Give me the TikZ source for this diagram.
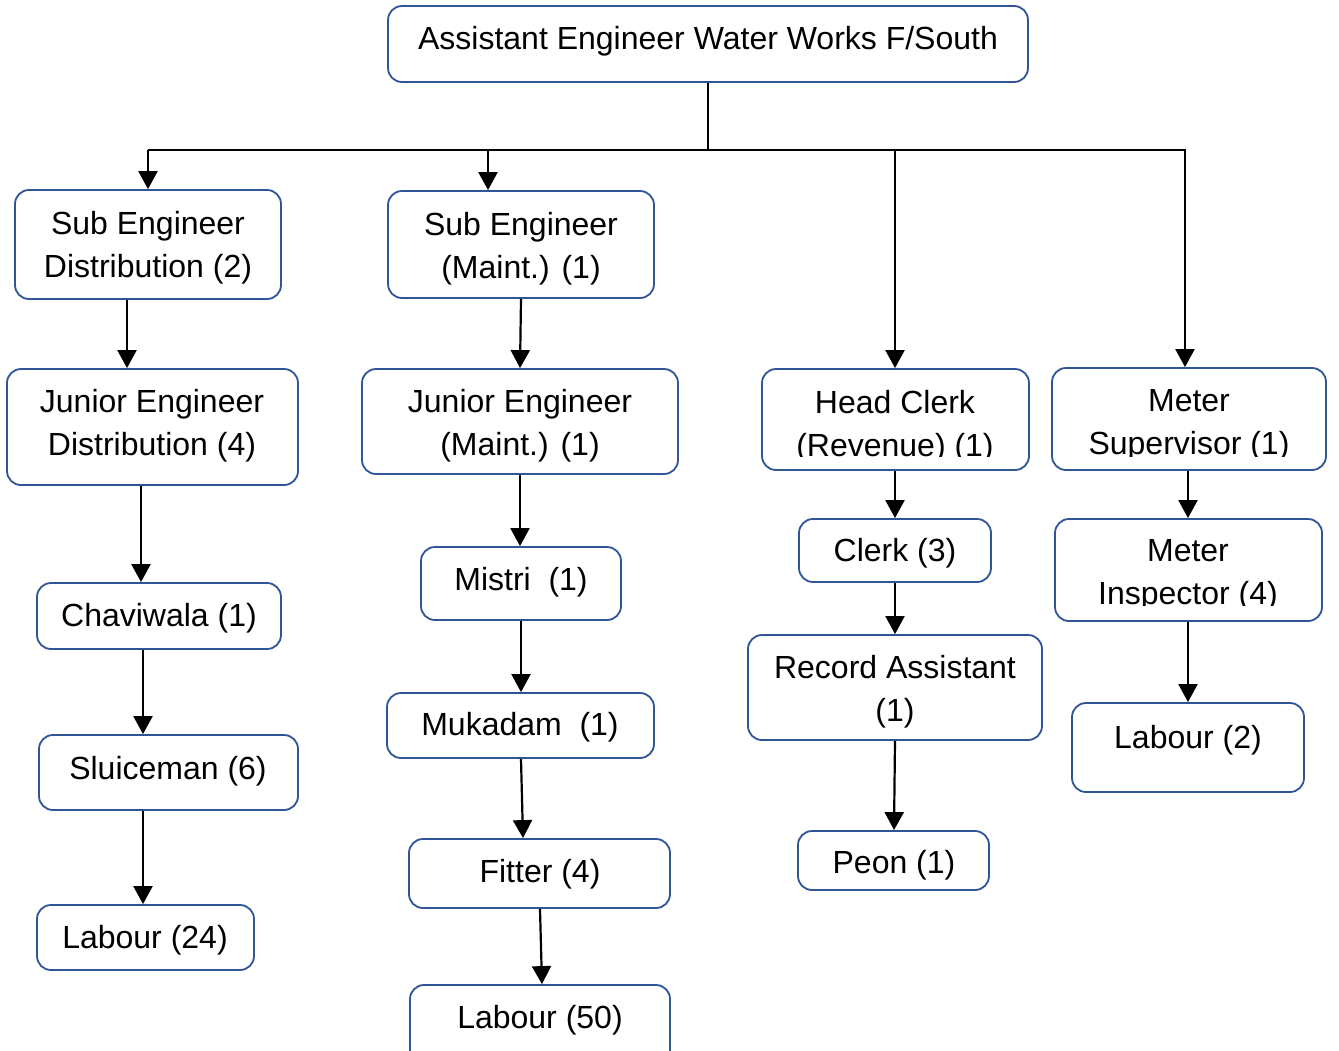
\documentclass[tikz,border=0pt]{standalone}
\usepackage{fontspec}
\setmainfont{Liberation Sans}
\usetikzlibrary{arrows.meta}
\definecolor{bdr}{RGB}{47,85,151}
\newcommand\bx[5]{\node[box,minimum width={(#4-#2)*1pt},minimum height={(#5-#3)*1pt}] (#1) at ({(#2+#4)/2},{(#3+#5)/2}) {};}
\begin{document}
\begin{tikzpicture}[x=1pt,y=-1pt,
  box/.style={draw=bdr,line width=1.8pt,rounded corners=14pt,inner sep=0pt},
  lbl/.style={font=\fontsize{32}{43}\selectfont,align=center,inner sep=0pt},
  arr/.style={line width=2.2pt,-{Triangle[width=19pt,length=18pt]}},
  ln/.style={line width=2.2pt}]
\clip (0,0) rectangle (1339,1050);
\useasboundingbox (0,0) rectangle (1339,1050);
% boxes
\bx{top}{388}{6}{1028}{82}
\bx{sed}{15}{190}{281}{299}
\bx{sem}{388}{191}{654}{298}
\bx{jed}{7}{369}{298}{485}
\bx{jem}{362}{369}{678}{474}
\bx{hc}{762}{369}{1029}{470}
\bx{ms}{1052}{368}{1326}{470}
\bx{cha}{37}{583}{281}{649}
\bx{mis}{421}{547}{621}{620}
\bx{clk}{799}{519}{991}{582}
\bx{mi}{1055}{519}{1322}{621}
\bx{slu}{39}{735}{298}{810}
\bx{muk}{387}{693}{654}{758}
\bx{ra}{748}{635}{1042}{740}
\bx{lb2}{1072}{703}{1304}{792}
\bx{lb24}{37}{905}{254}{970}
\bx{fit}{409}{839}{670}{908}
\bx{peon}{798}{831}{989}{890}
\bx{lb50}{410}{985}{670}{1070}
% labels
\node[lbl] at (708,41) {Assistant Engineer Water Works F/South};
\node[lbl] at (148,248) {Sub Engineer\\Distribution (2)};
\node[lbl] at (521,249) {Sub Engineer\\(Maint.) (1)};
\node[lbl] at (152,426) {Junior Engineer\\Distribution (4)};
\node[lbl] at (520,426) {Junior Engineer\\(Maint.) (1)};
\begin{scope}
\clip (762,369) rectangle (1029,456);
\node[lbl] at (895,427) {Head Clerk\\(Revenue) (1)};
\end{scope}
\begin{scope}
\clip (1052,368) rectangle (1326,456);
\node[lbl] at (1189,425) {Meter\\Supervisor (1)};
\end{scope}
\begin{scope}
\clip (1055,519) rectangle (1322,605);
\node[lbl] at (1188,575) {Meter\\Inspector (4)};
\end{scope}
\node[lbl] at (159,618) {Chaviwala (1)};
\node[lbl] at (521,582) {Mistri\ \ (1)};
\node[lbl] at (895,553) {Clerk (3)};
\node[lbl] at (168,771) {Sluiceman (6)};
\node[lbl] at (520,727) {Mukadam\ \ (1)};
\node[lbl] at (895,692) {Record Assistant\\(1)};
\node[lbl] at (1188,740) {Labour (2)};
\node[lbl] at (145,940) {Labour (24)};
\node[lbl] at (540,874) {Fitter (4)};
\node[lbl] at (894,865) {Peon (1)};
\node[lbl] at (540,1020) {Labour (50)};
% tree connectors
\coordinate (hl) at (148,150);
\coordinate (hr) at (1186,150);
\coordinate (b2) at (488,150);
\coordinate (b3) at (895,150);
\coordinate (b4) at (1185,150);
\draw[ln] (top.south) -- (top.south |- hl);
\draw[ln] (hl) -- (hr);
\draw[arr] (hl) -- (sed.north -| hl);
\draw[arr] (b2) -- (sem.north -| b2);
\draw[arr] (b3) -- (hc.north -| b3);
\draw[arr] (b4) -- (ms.north -| b4);
% column 1
\draw[arr] (sed.south -| 127,0) -- (jed.north -| 127,0);
\draw[arr] (jed.south -| 141,0) -- (cha.north -| 141,0);
\draw[arr] (cha.south -| 143,0) -- (slu.north -| 143,0);
\draw[arr] (slu.south -| 143,0) -- (lb24.north -| 143,0);
% column 2
\draw[arr] (sem.south -| 521,0) -- (jem.north -| 520,0);
\draw[arr] (jem.south -| 520,0) -- (mis.north -| 520,0);
\draw[arr] (mis.south -| 521,0) -- (muk.north -| 521,0);
\draw[arr] (muk.south -| 521,0) -- (fit.north -| 523,0);
\draw[arr] (fit.south -| 540,0) -- (lb50.north -| 542,0);
% column 3
\draw[arr] (hc.south -| 895,0) -- (clk.north -| 895,0);
\draw[arr] (clk.south -| 895,0) -- (ra.north -| 895,0);
\draw[arr] (ra.south -| 895,0) -- (peon.north -| 894,0);
% column 4
\draw[arr] (ms.south -| 1188,0) -- (mi.north -| 1188,0);
\draw[arr] (mi.south -| 1188,0) -- (lb2.north -| 1188,0);
\end{tikzpicture}
\end{document}
